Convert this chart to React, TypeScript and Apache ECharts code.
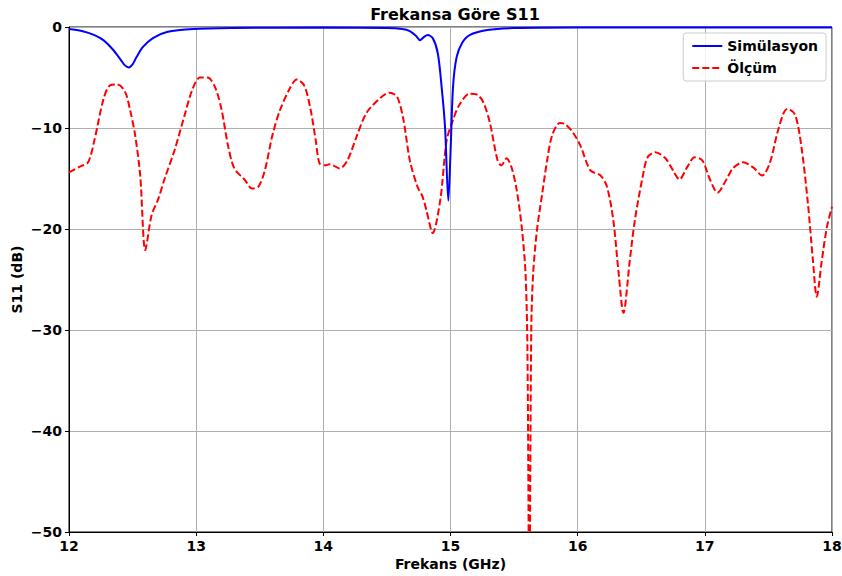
import React, { useEffect, useRef } from "react";
import * as echarts from "echarts";

const titleText = "Frekansa Göre S11";
const xName = "Frekans (GHz)";
const yName = "S11 (dB)";
const seriesNames = ["Simülasyon", "Ölçüm"];

const simFreq = [
  12.0, 12.1, 12.2, 12.27, 12.35, 12.41, 12.44, 12.47, 12.5, 12.53, 12.58, 12.66, 12.77, 12.98,
  13.3, 14.0, 14.5, 14.62, 14.68, 14.73, 14.76, 14.79, 14.82, 14.86, 14.9, 14.93, 14.957, 14.983,
  15.0, 15.02, 15.048, 15.09, 15.15, 15.29, 15.5, 16.0, 17.0, 18.0,
];
const simS11 = [
  -0.2, -0.4, -0.8, -1.3, -2.3, -3.3, -3.8, -4.0, -3.7, -3.0, -2.0, -1.1, -0.5, -0.2,
  -0.1, -0.05, -0.1, -0.2, -0.4, -0.9, -1.3, -1.0, -0.8, -1.1, -2.6, -5.9, -9.9, -17.2,
  -12.5, -5.9, -3.0, -1.6, -0.8, -0.3, -0.1, -0.05, -0.05, -0.05,
];

const measFreq = [
  12.0, 12.09, 12.15, 12.2, 12.27, 12.32, 12.38, 12.44, 12.48, 12.52, 12.56, 12.6, 12.65, 12.7,
  12.75, 12.83, 12.91, 12.97, 13.03, 13.09, 13.15, 13.2, 13.25, 13.3, 13.38, 13.44, 13.49, 13.54,
  13.6, 13.66, 13.74, 13.79, 13.85, 13.9, 13.94, 13.97, 14.01, 14.05, 14.13, 14.19, 14.26, 14.34,
  14.45, 14.52, 14.58, 14.63, 14.68, 14.74, 14.78, 14.81, 14.86, 14.92, 14.97, 15.02, 15.07, 15.15,
  15.21, 15.26, 15.31, 15.37, 15.4, 15.44, 15.48, 15.52, 15.56, 15.59, 15.605, 15.62, 15.635, 15.65,
  15.68, 15.72, 15.76, 15.8, 15.86, 15.9, 15.96, 16.02, 16.1, 16.18, 16.23, 16.28, 16.32, 16.36,
  16.41, 16.45, 16.51, 16.55, 16.61, 16.69, 16.75, 16.8, 16.86, 16.92, 16.98, 17.04, 17.1, 17.17,
  17.22, 17.3, 17.38, 17.45, 17.51, 17.57, 17.62, 17.65, 17.71, 17.76, 17.81, 17.85, 17.88, 17.92,
  17.96, 18.0,
];
const measS11 = [
  -14.4, -13.8, -13.4, -11.2, -7.2, -5.8, -5.7, -6.4, -8.2, -10.7, -14.7, -22.1, -18.6, -17.1,
  -15.1, -12.2, -8.7, -6.2, -5.0, -5.0, -6.0, -8.2, -11.7, -14.0, -15.1, -16.0, -15.8, -14.2,
  -10.7, -8.2, -6.0, -5.2, -5.8, -8.2, -11.2, -13.5, -13.7, -13.6, -14.0, -13.2, -10.9, -8.5,
  -7.0, -6.5, -6.9, -9.2, -13.2, -15.8, -16.8, -18.1, -20.4, -17.1, -11.2, -9.2, -7.7, -6.6,
  -6.7, -7.5, -9.5, -13.2, -13.7, -13.0, -13.9, -16.1, -19.8, -24.4, -32.0, -58.0, -30.0, -24.4,
  -20.1, -16.6, -13.2, -10.7, -9.5, -9.6, -10.4, -11.7, -14.2, -14.7, -15.8, -19.1, -24.1, -28.3,
  -23.1, -19.1, -14.9, -12.9, -12.4, -13.0, -14.2, -15.1, -13.9, -12.9, -13.2, -15.1, -16.4, -15.1,
  -14.0, -13.4, -13.9, -14.7, -13.5, -10.5, -8.5, -8.1, -8.7, -11.9, -17.4, -23.1, -26.7, -23.1,
  -19.8, -17.8,
];

const xTicks = { min: 12, max: 18, interval: 1 };
const yTicks = { min: -50, max: 0, interval: 10 };

const FONT = "DejaVu Sans";

export default function App() {
  const ref = useRef<HTMLDivElement>(null);
  useEffect(() => {
    if (!ref.current) return;
    const chart = echarts.init(ref.current, null, { renderer: "svg" });
    const simData = simFreq.map((f, i) => [f, simS11[i]]);
    const measData = measFreq.map((f, i) => [f, measS11[i]]);
    chart.setOption({
      animation: false,
      backgroundColor: "#ffffff",
      textStyle: { fontFamily: FONT },
      title: {
        text: titleText,
        left: 450,
        top: 1,
        textAlign: "center",
        textStyle: { fontFamily: FONT, fontSize: 16, fontWeight: "bold", color: "#000" },
      },
      grid: {
        left: 69,
        right: 10,
        top: 27,
        bottom: 44,
        outerBoundsMode: "none",
        containLabel: false,
        show: true,
        borderColor: "#000",
        borderWidth: 1,
        backgroundColor: "transparent",
      },
      legend: {
        orient: "vertical",
        right: 16,
        top: 33,
        padding: [6, 8, 6, 8],
        itemGap: 8,
        itemWidth: 30,
        itemHeight: 14,
        backgroundColor: "rgba(255,255,255,0.8)",
        borderColor: "#cccccc",
        borderWidth: 1,
        borderRadius: 3,
        itemStyle: { opacity: 0, borderWidth: 0 },
        lineStyle: { width: 2 },
        textStyle: { fontFamily: FONT, fontSize: 14, fontWeight: "bold", color: "#000" },
        data: seriesNames,
      },
      xAxis: {
        type: "value",
        min: xTicks.min,
        max: xTicks.max,
        interval: xTicks.interval,
        name: xName,
        nameLocation: "middle",
        nameGap: 25,
        nameMoveOverlap: false,
        nameTextStyle: { fontFamily: FONT, fontSize: 14, fontWeight: "bold", color: "#000" },
        axisLine: { show: true, onZero: false, lineStyle: { color: "#000", width: 1 } },
        axisTick: { show: true, inside: false, length: 4, lineStyle: { color: "#000" } },
        axisLabel: {
          fontFamily: FONT,
          fontSize: 14,
          fontWeight: "bold",
          color: "#000",
          margin: 7,
        },
        splitLine: { show: true, lineStyle: { color: "#b0b0b0", width: 1 } },
      },
      yAxis: {
        type: "value",
        min: yTicks.min,
        max: yTicks.max,
        interval: yTicks.interval,
        name: yName,
        nameLocation: "middle",
        nameGap: 45,
        nameMoveOverlap: false,
        nameTextStyle: { fontFamily: FONT, fontSize: 14, fontWeight: "bold", color: "#000" },
        axisLine: { show: true, onZero: false, lineStyle: { color: "#000", width: 1 } },
        axisTick: { show: true, inside: false, length: 4, lineStyle: { color: "#000" } },
        axisLabel: {
          fontFamily: FONT,
          fontSize: 14,
          fontWeight: "bold",
          color: "#000",
          margin: 7,
          formatter: (v: number) => String(v).replace("-", "\u2212"),
        },
        splitLine: { show: true, lineStyle: { color: "#b0b0b0", width: 1 } },
      },
      series: [
        {
          name: seriesNames[0],
          type: "line",
          data: simData,
          showSymbol: false,
          symbol: "none",
          smooth: 0.3,
          clip: true,
          lineStyle: { color: "#0000ff", width: 2, type: "solid" },
          itemStyle: { color: "#0000ff" },
          z: 3,
        },
        {
          name: seriesNames[1],
          type: "line",
          data: measData,
          showSymbol: false,
          symbol: "none",
          smooth: 0.3,
          clip: true,
          lineStyle: { color: "#ff0000", width: 2, type: [7, 3] },
          itemStyle: { color: "#ff0000" },
          z: 2,
        },
      ],
    });
    return () => chart.dispose();
  }, []);
  return (
    <div
      ref={ref}
      style={{ position: "absolute", left: 0, top: 0, width: 842, height: 576 }}
    />
  );
}
